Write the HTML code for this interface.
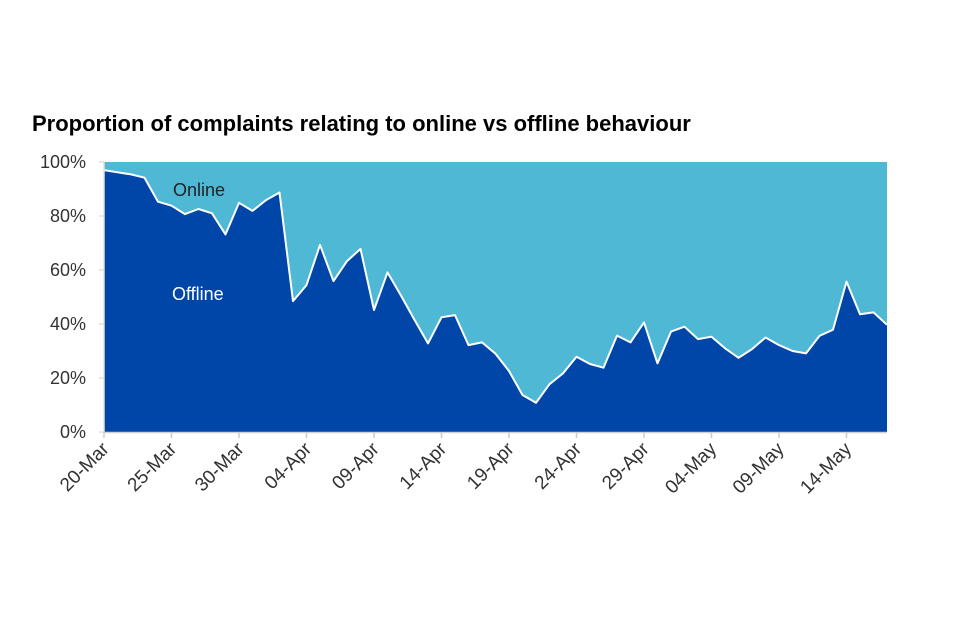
<!DOCTYPE html>
<html><head><meta charset="utf-8"><style>
body{margin:0;background:#fff;}
svg{display:block;font-family:"Liberation Sans",Arial,sans-serif;}
</style></head><body>
<svg id="chart" width="960" height="640">
<text x="32" y="131" font-size="22" font-weight="bold" fill="#000">Proportion of complaints relating to online vs offline behaviour</text>
<g id="plot"></g>
</svg>
<script>
const categories = ["20-Mar","21-Mar","22-Mar","23-Mar","24-Mar","25-Mar","26-Mar","27-Mar","28-Mar","29-Mar","30-Mar","31-Mar","01-Apr","02-Apr","03-Apr","04-Apr","05-Apr","06-Apr","07-Apr","08-Apr","09-Apr","10-Apr","11-Apr","12-Apr","13-Apr","14-Apr","15-Apr","16-Apr","17-Apr","18-Apr","19-Apr","20-Apr","21-Apr","22-Apr","23-Apr","24-Apr","25-Apr","26-Apr","27-Apr","28-Apr","29-Apr","30-Apr","01-May","02-May","03-May","04-May","05-May","06-May","07-May","08-May","09-May","10-May","11-May","12-May","13-May","14-May","15-May","16-May","17-May"];
const offline = [97,96.2,95.4,94.2,85.3,83.8,80.7,82.6,81,73.2,84.9,81.9,85.9,88.7,48.5,54.4,69.3,55.9,63.3,67.8,45.2,59.1,50.5,41.5,32.8,42.5,43.3,32.2,33.2,29,22.6,13.7,10.8,17.7,21.7,27.9,25.2,23.8,35.7,33.2,40.6,25.4,37.2,39,34.4,35.3,31,27.5,30.7,35,32.2,30,29.1,35.6,37.9,55.7,43.6,44.3,39.7];
const yTicks = [0,20,40,60,80,100];
const xTickLabels = ["20-Mar","25-Mar","30-Mar","04-Apr","09-Apr","14-Apr","19-Apr","24-Apr","29-Apr","04-May","09-May","14-May"];

const NS="http://www.w3.org/2000/svg";
const X0=104, X1=887, Y0=432, Y1=162;
const n=categories.length;
const xs=i=>X0+(X1-X0)*i/(n-1);
const ys=v=>Y0-(Y0-Y1)*v/100;
const g=document.getElementById('plot');
function mk(t,a){const e=document.createElementNS(NS,t);for(const k in a)e.setAttribute(k,a[k]);g.appendChild(e);return e;}

const online=mk('rect',{x:X0,y:Y1,width:X1-X0,height:Y0-Y1,fill:'#4fb8d5'});



let d='M'+X0+','+Y0;
offline.forEach((v,i)=>{d+=' L'+xs(i).toFixed(1)+','+ys(v).toFixed(1);});
d+=' L'+X1+','+Y0+' Z';
const off=mk('path',{d:d,fill:'#0046a9'});


let ld='';
offline.forEach((v,i)=>{ld+=(i?' L':'M')+xs(i).toFixed(1)+','+ys(v).toFixed(1);});
const line=mk('path',{d:ld,fill:'none',stroke:'#fff','stroke-width':2,'stroke-linejoin':'round'});



const ax=mk('line',{x1:X0,y1:Y1,x2:X0,y2:Y0,stroke:'#e6e0d0','stroke-width':1.5});


const bx=mk('line',{x1:X0,y1:Y0+0.5,x2:X1,y2:Y0+0.5,stroke:'#d0d0d0','stroke-width':1.5});



yTicks.forEach(v=>{
 const t=mk('text',{x:86,y:ys(v)+6,'font-size':18,fill:'#333','text-anchor':'end'});
 t.textContent=v+'%';
 
 
 const tk=mk('line',{x1:X0-5,y1:ys(v),x2:X0,y2:ys(v),stroke:'#e6e0d0','stroke-width':1.5});
 
 
});
xTickLabels.forEach(lab=>{
 const i=categories.indexOf(lab);
 const x=xs(i);
 const tk=mk('line',{x1:x,y1:Y0,x2:x,y2:Y0+6,stroke:'#cccccc','stroke-width':1.5});
 
 
 const t=mk('text',{x:x+6,y:Y0+18,'font-size':19,fill:'#333','text-anchor':'end',transform:'rotate(-45 '+(x+6)+' '+(Y0+18)+')'});
 t.textContent=lab;
 
 
});
const lo=mk('text',{x:173,y:196,'font-size':18,fill:'#222'});
lo.textContent='Online';


const lf=mk('text',{x:172,y:300,'font-size':18,fill:'#fff'});
lf.textContent='Offline';


</script>
</body></html>
